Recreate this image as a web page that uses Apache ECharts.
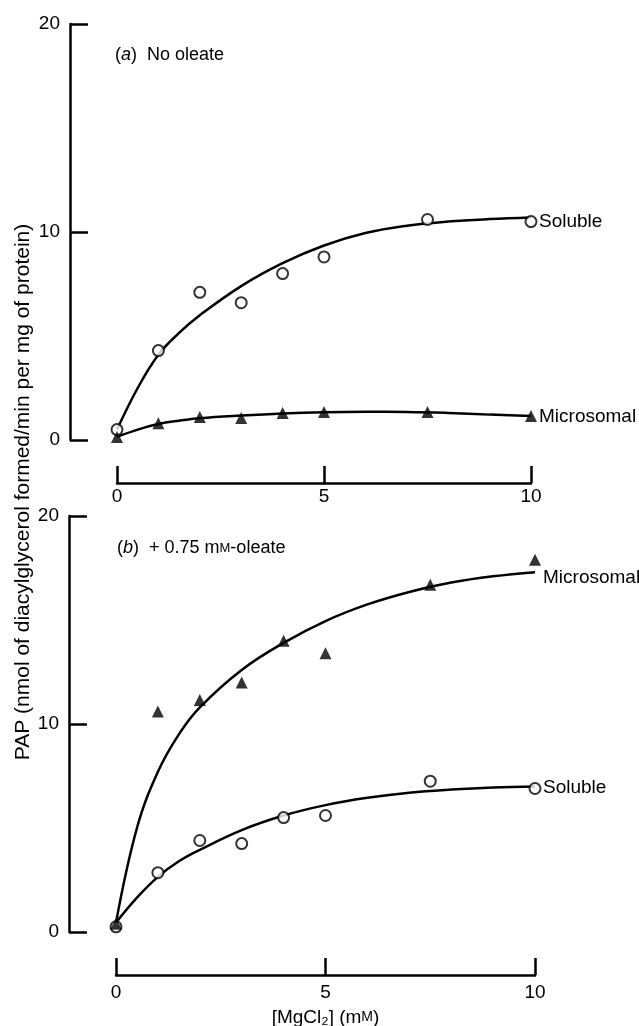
<!DOCTYPE html>
<html>
<head>
<meta charset="utf-8">
<script src="https://cdn.jsdelivr.net/npm/echarts@6/dist/echarts.min.js"></script>
<style>
html,body{margin:0;padding:0;background:#fff;}
#chart{width:639px;height:1026px;}
</style>
</head>
<body>
<div id="chart"></div>
<script>
// Measured x positions ([MgCl2], mM)
const xVals = [0, 1, 2, 3, 4, 5, 7.5, 10];
// Panel (a) No oleate
const topSoluble = [0.5, 4.3, 7.1, 6.6, 8.0, 8.8, 10.6, 10.5];
const topMicrosomal = [0.15, 0.8, 1.1, 1.06, 1.3, 1.35, 1.35, 1.15];
// Panel (b) + 0.75 mM oleate
const botSoluble = [0.25, 2.85, 4.4, 4.25, 5.5, 5.6, 7.25, 6.9];
const botMicrosomal = [0.4, 10.6, 11.15, 12.0, 14.0, 13.4, 16.7, 17.9];

// Fitted curves
const curveX = [0, 0.5, 1, 1.5, 2, 3, 4, 5, 6, 7, 8, 9, 10];
const topSolubleFit = [0.5, 2.5, 4.1, 5.15, 6.0, 7.4, 8.5, 9.35, 9.95, 10.3, 10.5, 10.62, 10.7];
const topMicrosomalFit = [0.15, 0.5, 0.77, 0.93, 1.05, 1.18, 1.28, 1.34, 1.36, 1.35, 1.3, 1.22, 1.15];
const botSolubleFit = [0.45, 1.65, 2.65, 3.4, 3.95, 4.9, 5.6, 6.1, 6.45, 6.7, 6.85, 6.95, 7.0];
const botMicrosomalFit = [0.45, 5.0, 7.7, 9.5, 10.8, 12.6, 13.9, 14.95, 15.75, 16.35, 16.8, 17.1, 17.3];

const yTicks = [0, 10, 20];
const xTicks = [0, 5, 10];

const FONT = '"Liberation Sans", Arial, Helvetica, sans-serif';
const pair = (xs, ys) => xs.map((x, i) => [x, ys[i]]);

function xAxisCfg(gridIndex, margin, extra) {
  return Object.assign({
    gridIndex, type: 'value', min: xTicks[0], max: xTicks[xTicks.length - 1], interval: 5,
    offset: 43,
    axisLine: { show: true, onZero: false, lineStyle: { color: '#000', width: 2.5 } },
    axisTick: { show: true, inside: true, length: 17, lineStyle: { color: '#000', width: 2.5 } },
    axisLabel: { color: '#000', fontSize: 19, fontFamily: FONT, margin: margin },
    splitLine: { show: false }
  }, extra || {});
}
function yAxisCfg(gridIndex) {
  return {
    gridIndex, type: 'value', min: yTicks[0], max: yTicks[yTicks.length - 1], interval: 10,
    offset: 47,
    axisLine: { show: true, onZero: false, lineStyle: { color: '#000', width: 2.5 } },
    axisTick: { show: true, inside: true, length: 18, lineStyle: { color: '#000', width: 2.5 } },
    axisLabel: { color: '#000', fontSize: 19, fontFamily: FONT, margin: 10 },
    splitLine: { show: false }
  };
}
function curve(idx, xs, ys, name, offset) {
  return {
    type: 'line', xAxisIndex: idx, yAxisIndex: idx, data: pair(xs, ys),
    smooth: 0.4, showSymbol: false, symbol: 'none', silent: true, z: 2,
    lineStyle: { color: '#000', width: 2.5 },
    endLabel: { show: true, formatter: name, color: '#000', fontSize: 19, fontFamily: FONT, distance: 8, offset: offset || [0, 0] }
  };
}
function circles(idx, ys) {
  return {
    type: 'scatter', xAxisIndex: idx, yAxisIndex: idx, data: pair(xVals, ys),
    symbol: 'circle', symbolSize: 11, z: 3,
    itemStyle: { color: '#fff', borderColor: '#000', borderWidth: 2 }
  };
}
function triangles(idx, ys) {
  return {
    type: 'scatter', xAxisIndex: idx, yAxisIndex: idx, data: pair(xVals, ys),
    symbol: 'triangle', symbolSize: 12, z: 3,
    itemStyle: { color: '#000' }
  };
}

const chart = echarts.init(document.getElementById('chart'), null, { renderer: 'canvas' });
chart.setOption({
  animation: false,
  backgroundColor: '#fff',
  grid: [
    { left: 117, right: 108, top: 24, height: 416, outerBoundsMode: 'none', containLabel: false },
    { left: 116, right: 104, top: 516, height: 416, outerBoundsMode: 'none', containLabel: false }
  ],
  xAxis: [
    xAxisCfg(0, 4),
    xAxisCfg(1, 8, {
      name: '[MgCl₂] (m{sc|M})', nameLocation: 'middle', nameGap: 33,
      nameTextStyle: { color: '#000', fontSize: 19, fontFamily: FONT, rich: { sc: { fontSize: 14, fontFamily: FONT, color: '#000' } } }
    })
  ],
  yAxis: [yAxisCfg(0), yAxisCfg(1)],
  series: [
    curve(0, curveX, topSolubleFit, 'Soluble', [0, 4]),
    curve(0, curveX, topMicrosomalFit, 'Microsomal', [0, 1]),
    curve(1, curveX, botMicrosomalFit, 'Microsomal', [0, 6]),
    curve(1, curveX, botSolubleFit, 'Soluble', [0, 1]),
    circles(0, topSoluble),
    triangles(0, topMicrosomal),
    circles(1, botSoluble),
    triangles(1, botMicrosomal)
  ],
  graphic: [
    {
      type: 'text', x: 23, y: 492, rotation: Math.PI / 2,
      style: {
        text: 'PAP (nmol of diacylglycerol formed/min per mg of protein)',
        fill: '#000', fontSize: 21, fontFamily: FONT, align: 'center', verticalAlign: 'middle'
      }
    },
    {
      type: 'text', x: 115, y: 55,
      style: {
        text: '({i|a})  No oleate', fill: '#000', fontSize: 18, fontFamily: FONT, verticalAlign: 'middle',
        rich: { i: { fontStyle: 'italic', fontSize: 18, fontFamily: FONT, fill: '#000' } }
      }
    },
    {
      type: 'text', x: 117, y: 548,
      style: {
        text: '({i|b})  + 0.75 m{sc|M}-oleate', fill: '#000', fontSize: 18, fontFamily: FONT, verticalAlign: 'middle',
        rich: {
          i: { fontStyle: 'italic', fontSize: 18, fontFamily: FONT, fill: '#000' },
          sc: { fontSize: 13, fontFamily: FONT, fill: '#000' }
        }
      }
    }
  ]
});
</script>
</body>
</html>
